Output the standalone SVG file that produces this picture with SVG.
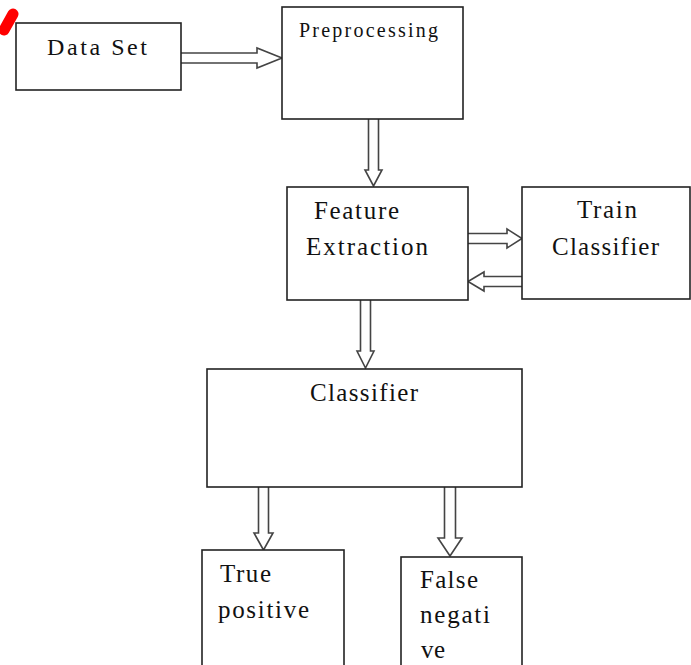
<svg xmlns="http://www.w3.org/2000/svg" width="691" height="665" viewBox="0 0 691 665">
<style>
.box{fill:#fff;stroke:#222;stroke-width:1.6}
.arr{fill:#fff;stroke:#444;stroke-width:1.6;stroke-linejoin:miter}
.t{font-family:'Liberation Serif','DejaVu Serif','Times New Roman',serif;fill:#111;font-size:25px}
</style>
<rect width="691" height="665" fill="#fff"/>
<line x1="4" y1="30" x2="13" y2="14" stroke="#f00" stroke-width="11" stroke-linecap="round"/>
<g id="connectors">
<path class="arr" d="M181,53 L257,53 L257,48 L282,58 L257,68 L257,63 L181,63"/>
<path class="arr" d="M368.5,119 L368.5,170 L365,170 L373.5,186 L382,170 L378.5,170 L378.5,119"/>
<path class="arr" d="M468,233.5 L507,233.5 L507,229 L522,238.5 L507,248 L507,243.5 L468,243.5"/>
<path class="arr" d="M522,276.5 L484,276.5 L484,272 L468,281.5 L484,291 L484,286.5 L522,286.5"/>
<path class="arr" d="M360.5,300 L360.5,351 L357,351 L365.5,368 L374,351 L370.5,351 L370.5,300"/>
<path class="arr" d="M258.5,487 L258.5,533 L254,533 L263.5,550 L273,533 L268.5,533 L268.5,487"/>
<path class="arr" d="M444.5,487 L444.5,538 L438,538 L450,556 L462,538 L455.5,538 L455.5,487"/>
</g>
<g id="data-set">
<rect class="box" x="16" y="23" width="165" height="67"/>
<text class="t" x="47" y="55" style="font-size:24px" textLength="100" lengthAdjust="spacing">Data Set</text>
</g>
<g id="preprocessing">
<rect class="box" x="282" y="7" width="181" height="112"/>
<text class="t" x="299" y="37" style="font-size:20px" textLength="139" lengthAdjust="spacing">Preprocessing</text>
</g>
<g id="feature-extraction">
<rect class="box" x="287" y="187" width="181" height="113"/>
<text class="t" x="314" y="219" textLength="85" lengthAdjust="spacing">Feature</text>
<text class="t" x="306" y="255" textLength="122" lengthAdjust="spacing">Extraction</text>
</g>
<g id="train-classifier">
<rect class="box" x="522" y="187" width="168" height="112"/>
<text class="t" x="577" y="218" textLength="60" lengthAdjust="spacing">Train</text>
<text class="t" x="552" y="255" textLength="107" lengthAdjust="spacing">Classifier</text>
</g>
<g id="classifier">
<rect class="box" x="207" y="369" width="315" height="118"/>
<text class="t" x="310" y="401" textLength="108" lengthAdjust="spacing">Classifier</text>
</g>
<g id="true-positive">
<rect class="box" x="202" y="550" width="142" height="130"/>
<text class="t" x="220" y="582" textLength="51" lengthAdjust="spacing">True</text>
<text class="t" x="218" y="618" textLength="91" lengthAdjust="spacing">positive</text>
</g>
<g id="false-negative">
<rect class="box" x="401" y="557" width="121" height="130"/>
<text class="t" x="420" y="588" textLength="58" lengthAdjust="spacing">False</text>
<text class="t" x="420" y="623" textLength="70" lengthAdjust="spacing">negati</text>
<text class="t" x="421" y="658" textLength="24" lengthAdjust="spacing">ve</text>
</g>
</svg>
